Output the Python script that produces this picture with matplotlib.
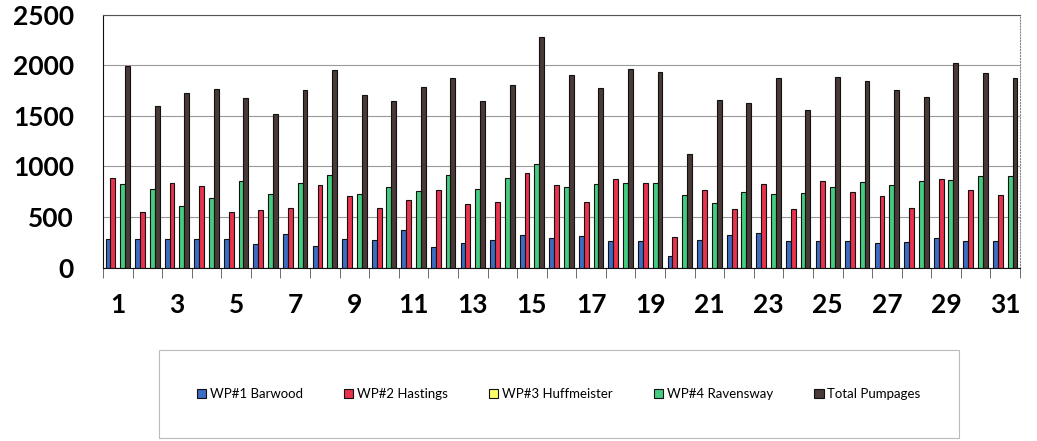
import numpy as np
import matplotlib
matplotlib.use("Agg")
import matplotlib.pyplot as plt

days = list(range(1, 32))

barwood = [281, 283, 283, 284, 283, 234, 336, 214, 283, 270, 370, 201, 247, 274, 326, 296,
           313, 261, 261, 119, 274, 320, 340, 264, 264, 264, 241, 254, 290, 261, 261]
hastings = [886, 547, 837, 807, 547, 570, 593, 820, 711, 590, 664, 768, 632, 652, 939, 817,
            646, 879, 837, 300, 765, 583, 830, 580, 853, 745, 711, 587, 879, 765, 721]
huffmeister = [0] * 31
ravensway = [830, 777, 613, 689, 857, 725, 837, 916, 725, 800, 761, 913, 781, 889, 1024, 800,
             830, 837, 837, 715, 639, 745, 728, 735, 794, 850, 817, 860, 866, 909, 906]
total = [1996, 1597, 1726, 1769, 1680, 1518, 1752, 1950, 1709, 1650, 1785, 1871, 1650, 1805, 2282, 1907,
         1772, 1966, 1930, 1123, 1657, 1630, 1877, 1561, 1884, 1845, 1756, 1686, 2022, 1927, 1877]

names = ["WP#1 Barwood", "WP#2 Hastings", "WP#3 Huffmeister", "WP#4 Ravensway", "Total Pumpages"]
colors = ["#3c6cc4", "#e8324e", "#ffff66", "#44cc80", "#4a3a38"]
series = [barwood, hastings, huffmeister, ravensway, total]

plt.rcParams['font.family'] = ['Lato', 'DejaVu Sans']

fig = plt.figure(figsize=(10.37, 4.41), dpi=100)
ax = fig.add_axes([0.0993, 0.393, 0.8843, 0.5737])

x = np.arange(len(days))
w = 0.165
for i, (vals, c, n) in enumerate(zip(series, colors, names)):
    ax.bar(x + (i - 2) * w, vals, width=w, color=c, edgecolor="#111111", linewidth=0.8, label=n)

ax.set_xlim(-0.5, len(days) - 0.5)
ax.set_ylim(0, 2500)
ax.set_yticks(range(0, 2501, 500))
ax.yaxis.grid(True, color="#999999", linewidth=0.8)
ax.set_axisbelow(True)
ax.tick_params(axis='y', length=0, labelsize=19, pad=21)
for t in ax.get_yticklabels():
    t.set_fontweight('bold')

ax.set_xticks(x[::2])
ax.set_xticklabels([str(d) for d in days[::2]], fontsize=19, fontweight='bold')
ax.set_xticks(np.arange(-0.5, len(days)), minor=True)
ax.tick_params(axis='x', which='major', length=0, pad=18)
ax.tick_params(axis='x', which='minor', length=7, color="#555555")

ax.spines['left'].set_color("#111111")
ax.spines['bottom'].set_color("#111111")
ax.spines['top'].set_color("#555555")
ax.spines['right'].set_color("#888888")
ax.spines['right'].set_linestyle(":")

leg = fig.legend(loc='center', bbox_to_anchor=(0.539, 0.1066), ncol=5, fontsize=9.5,
                 handlelength=0.7, handleheight=0.7, handletextpad=0.3, columnspacing=3.1,
                 frameon=True, fancybox=False, borderpad=2.9)
leg.get_frame().set_edgecolor("#aaaaaa")
leg.get_frame().set_linewidth(0.8)

fig.savefig("out.png", dpi=100)
